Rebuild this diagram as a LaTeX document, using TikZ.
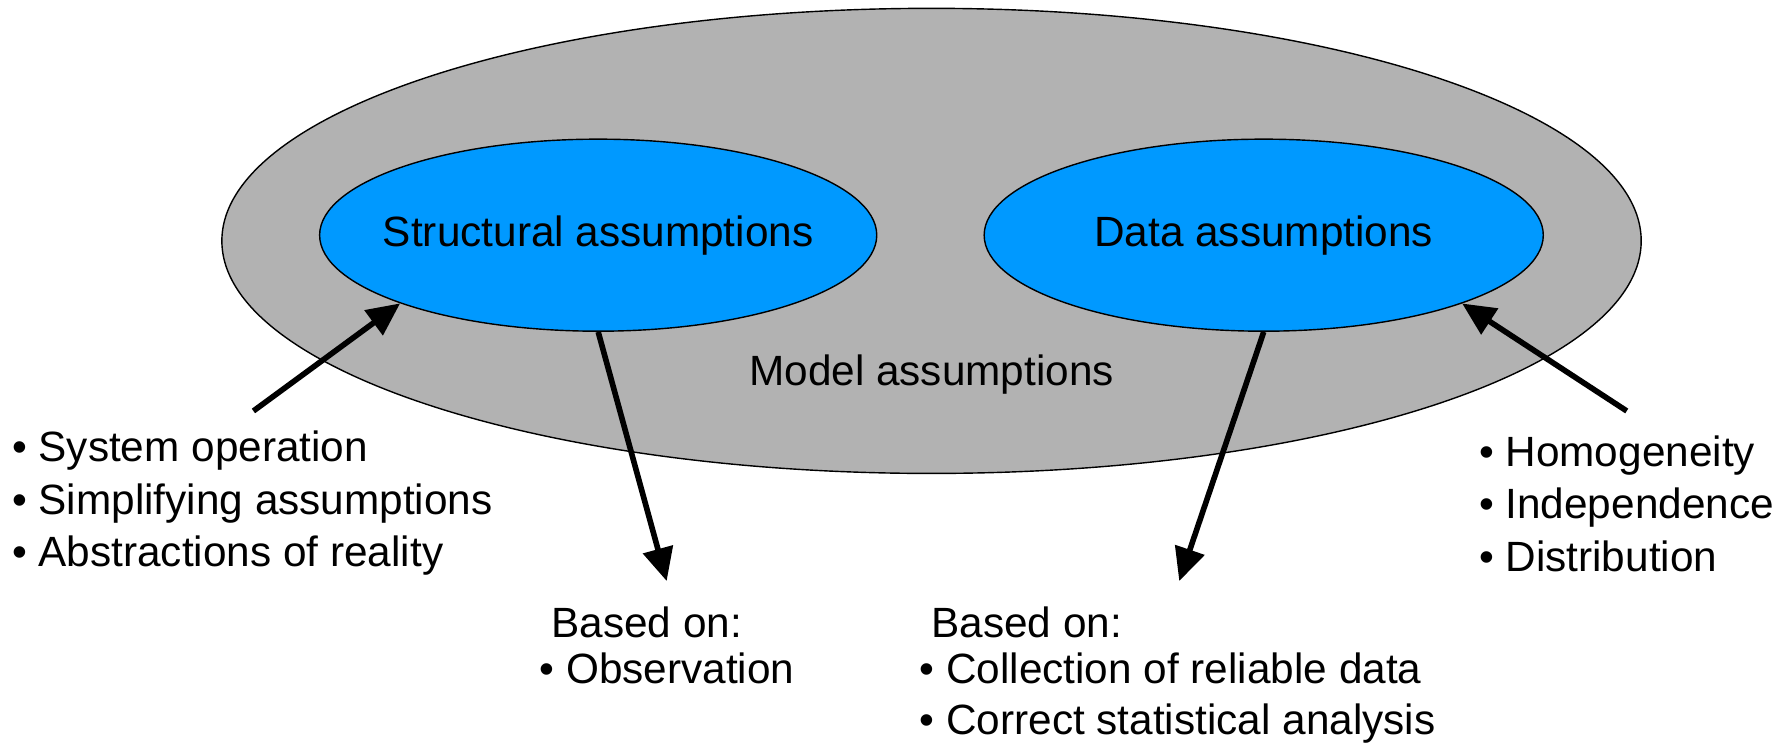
\documentclass[tikz,border=0pt]{standalone}
\usepackage{fontspec}
\setmainfont{Liberation Sans}
\usetikzlibrary{shapes.geometric,arrows.meta}
\definecolor{modelgray}{RGB}{178,178,178}
\definecolor{assumblue}{RGB}{0,153,255}
\tikzset{
	txt/.style={font=\fontsize{12.04pt}{14.95pt}\selectfont, inner sep=0pt},
	blob/.style={ellipse, draw=black, thin, txt},
	push/.style={line width=1.6pt, -{Triangle[length=0.33cm,width=0.30cm]}}
}
\begin{document}
\begin{tikzpicture}[x=0.011416cm, y=-0.011416cm]
	\useasboundingbox (0,0) rectangle (1568,652);
	\node[blob, fill=modelgray, minimum width=14.19cm, minimum height=4.65cm] (model) at (816,211) {};
	\node[txt] (modeltxt) at (816,328) {Model assumptions};
	\node[blob, fill=assumblue, minimum width=5.57cm, minimum height=1.92cm, label={[txt]center:Structural assumptions}] (struct) at (524,206) {};
	\node[blob, fill=assumblue, minimum width=5.59cm, minimum height=1.92cm, label={[txt]center:Data assumptions}] (data) at (1107,206) {};
	% bullet lists
	\node[txt, align=left, anchor=west] (system) at (10,441) {• System operation\\• Simplifying assumptions\\• Abstractions of reality};
	\node[txt, align=left, anchor=west] (homog) at (1295,441) {• Homogeneity\\• Independence\\• Distribution};
	\node[txt, align=left, anchor=north west] (obs) at (472,531) {\hspace*{0.28em}Based on:\\[-0.07cm]• Observation};
	\node[txt, align=left, anchor=north west] (coll) at (805,531) {\hspace*{0.28em}Based on:\\[-0.07cm]• Collection of reliable data\\[-0.01cm]• Correct statistical analysis};
	% arrows
	\coordinate (sysfoot) at (222,360);
	\coordinate (homfoot) at (1425,360);
	\coordinate (obstip) at (584,509);
	\coordinate (colltip) at (1033,509);
	\draw[push] (sysfoot) -- (struct.199);
	\draw[push] (homfoot) -- (data.341);
	\draw[push] (struct.south) -- (obstip);
	\draw[push] (data.south) -- (colltip);
\end{tikzpicture}
\end{document}
